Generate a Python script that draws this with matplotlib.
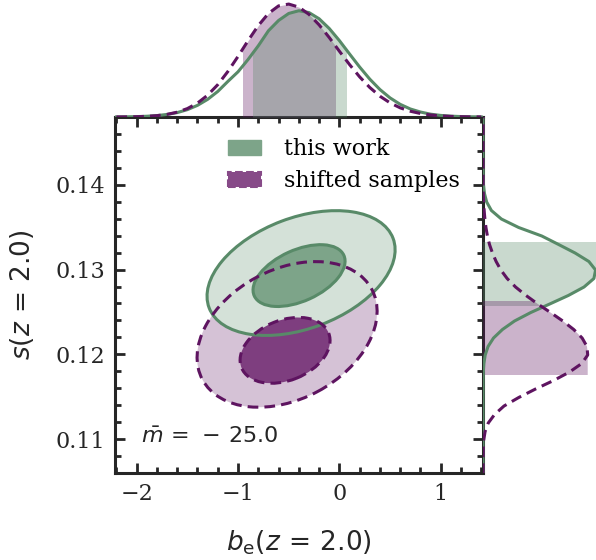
import numpy as np
import matplotlib
matplotlib.use('Agg')
import matplotlib.pyplot as plt
from matplotlib.patches import Ellipse, Patch, Rectangle
from matplotlib.transforms import Affine2D

plt.rcParams['font.family'] = 'serif'
plt.rcParams['font.serif'] = ['DejaVu Serif']
plt.rcParams['mathtext.fontset'] = 'dejavusans'

#---------------------- data ----------------------
labels = ['this work', 'shifted samples']
green = '#588a68'
purple = '#5e1460'
fill_outer = ['#d4e1d8', '#d5c2d6']
fill_inner = ['#7da489', '#7e3e7f']

# 1D marginal of b_e (top panel)
b_grid = [-2.2, -2.1, -2.0, -1.9, -1.8, -1.7, -1.6, -1.5, -1.4, -1.3, -1.2, -1.1, -1.0,
          -0.9, -0.8, -0.7, -0.6, -0.5, -0.4, -0.3, -0.2, -0.1, 0.0, 0.1, 0.2, 0.3,
          0.4, 0.5, 0.6, 0.7, 0.8, 0.9, 1.0, 1.1, 1.2, 1.3, 1.4]
green_top = [0.0008, 0.0017, 0.0034, 0.0067, 0.0126, 0.0227, 0.039, 0.065, 0.103, 0.156,
             0.226, 0.315, 0.40, 0.51, 0.63, 0.763, 0.854, 0.916, 0.940, 0.924, 0.869,
             0.783, 0.676, 0.558, 0.442, 0.335, 0.243, 0.169, 0.112, 0.071, 0.044, 0.025,
             0.014, 0.0076, 0.0039, 0.0019, 0.0009]
purple_top = [0.0005, 0.0012, 0.0027, 0.0058, 0.0119, 0.0232, 0.0427, 0.0745, 0.123, 0.193,
              0.286, 0.403, 0.536, 0.677, 0.809, 0.916, 0.983, 0.999, 0.972, 0.908, 0.815,
              0.703, 0.582, 0.464, 0.355, 0.261, 0.184, 0.125, 0.081, 0.051, 0.031, 0.018,
              0.0098, 0.0053, 0.0027, 0.0013, 0.0006]

# 1D marginal of s (right panel)
s_grid = [0.106, 0.107, 0.108, 0.109, 0.110, 0.111, 0.112, 0.113, 0.114, 0.115, 0.116,
          0.117, 0.118, 0.119, 0.120, 0.121, 0.122, 0.123, 0.124, 0.125, 0.126, 0.127,
          0.128, 0.129, 0.130, 0.131, 0.132, 0.133, 0.134, 0.135, 0.136, 0.137, 0.138,
          0.139, 0.140, 0.141, 0.142, 0.143, 0.144, 0.145, 0.146, 0.147, 0.148]
green_right = [0, 0, 0, 0, 0, 0, 0, 0, 0.0001, 0.0003, 0.0008,
               0.001, 0.003, 0.0085, 0.021, 0.048, 0.10, 0.185, 0.30, 0.455, 0.635, 0.812,
               0.962, 1.056, 1.072, 1.008, 0.877, 0.72, 0.56, 0.34, 0.175, 0.08, 0.035,
               0.014, 0.005, 0.0017, 0.0005, 0, 0, 0, 0, 0, 0]
purple_right = [0, 0, 0.0005, 0.002, 0.007, 0.02, 0.05, 0.11, 0.20, 0.34, 0.50,
                0.672, 0.824, 0.940, 0.997, 0.990, 0.944, 0.864, 0.760, 0.643, 0.522, 0.41,
                0.31, 0.23, 0.17, 0.125, 0.09, 0.062, 0.042, 0.028, 0.018, 0.011, 0.006,
                0.003, 0.0015, 0.0006, 0, 0, 0, 0, 0, 0, 0]

# 68% intervals of the 1D marginals
top_band = [(-0.85, 0.063), (-0.948, -0.042)]
right_band = [(0.1258, 0.1333), (0.1177, 0.1264)]
right_peak = [0.1300, 0.1203]

# 2D contours (68% and 95%) as ellipses: centre, width/height (in b units), angle
ell_b = [[-0.398, -0.378], [-0.536, -0.516]]
ell_s = [[0.12929, 0.12959], [0.12047, 0.12235]]
ell_w = [[0.971, 1.941], [0.926, 1.895]]
ell_h = [[0.506, 1.096], [0.596, 1.281]]
ell_ang = [[24.5, 20.8], [21.8, 28.2]]

xlim = (-2.214, 1.417)
ylim = (0.10612, 0.1480)
mbar = -25.0

#---------------------- figure ----------------------
W, H = 596, 560
fig = plt.figure(figsize=(W / 100, H / 100), dpi=100)
ax = fig.add_axes([115 / W, 1 - 473 / H, 368 / W, 356 / H])
ax_top = fig.add_axes([115 / W, 1 - 117 / H, 368 / W, 117 / H])
ax_r = fig.add_axes([483 / W, 1 - 473 / H, 113 / W, 356 / H])

cols = [green, purple]
styles = ['-', (0, (3.5, 2))]
lw = 2.2

# ratio to make the ellipses in pixel-isotropic units
k = ((ylim[1] - ylim[0]) / 356) / ((xlim[1] - xlim[0]) / 368)
tr = Affine2D().scale(1, k) + ax.transData

def ell(i, level, **kw):
    return Ellipse((ell_b[i][level], ell_s[i][level] / k), ell_w[i][level], ell_h[i][level],
                   angle=ell_ang[i][level], transform=tr, **kw)

# fills: purple outer, green outer, purple inner, green inner
for level, fc in [(1, fill_outer), (0, fill_inner)]:
    for i in [1, 0]:
        ax.add_patch(ell(i, level, facecolor=fc[i], lw=0))
for i in [0, 1]:
    for level in [1, 0]:
        ax.add_patch(ell(i, level, facecolor='none', edgecolor=cols[i], lw=lw, ls=styles[i]))

ax.set_xlim(xlim)
ax.set_ylim(ylim)
ax.set_xticks([-2, -1, 0, 1])
ax.set_xticks(np.arange(-2.2, 1.5, 0.2), minor=True)
ax.set_yticks([0.11, 0.12, 0.13, 0.14])
ax.set_yticks(np.arange(0.106, 0.1481, 0.002), minor=True)
ax.tick_params(which='both', direction='in', top=True, right=True, width=2, colors='#262626',
               labelsize=16, pad=7)
ax.tick_params(which='major', length=7)
ax.tick_params(which='minor', length=4.5)
for sp in ax.spines.values():
    sp.set_linewidth(2.2)
    sp.set_color('#262626')
ax.set_xlabel(r'$b_{\mathrm{e}}(z\,=\,2.0)$', fontsize=19, labelpad=17, color='#262626')
ax.set_ylabel(r'$s(z\,=\,2.0)$', fontsize=19, labelpad=14, color='#262626')
ax.text(0.07, 0.1, r'$\bar{m}\,=\,-\,%.1f$' % abs(mbar), transform=ax.transAxes,
        fontsize=16, va='center', color='#262626')

handles = [Patch(facecolor=fill_inner[0], edgecolor=fill_inner[0], lw=1),
           Patch(facecolor='#874a88', edgecolor='#874a88', lw=1.5, ls='--')]
ax.legend(handles, labels, loc='upper left', bbox_to_anchor=(0.283, 0.965), frameon=False,
          fontsize=16, handlelength=1.5, handleheight=0.6, handletextpad=1.0,
          labelspacing=0.45, borderaxespad=0)

# top marginal
tops = [green_top, purple_top]
for i in [1, 0]:
    f = ax_top.fill_between(b_grid, 0, tops[i], color=cols[i], alpha=0.32, lw=0)
    lo, hi = top_band[i]
    f.set_clip_path(Rectangle((lo, 0), hi - lo, 2, transform=ax_top.transData))
ax_top.plot(b_grid, green_top, color=green, lw=lw)
ax_top.plot(b_grid, purple_top, color=purple, lw=lw, ls=styles[1])
ax_top.set_xlim(xlim)
ax_top.set_ylim(0, 1.035)
ax_top.axis('off')

# right marginal
xr = (0, 1.076)
lo, hi = right_band[0]
gx = [0] + [g for g, s in zip(green_right, s_grid) if s < right_peak[0]] + [xr[1], xr[1], 0]
gy = [s_grid[0]] + [s for s in s_grid if s < right_peak[0]] + [right_peak[0], s_grid[-1], s_grid[-1]]
p, = ax_r.fill(gx, gy, color=green, alpha=0.32, lw=0)
p.set_clip_path(Rectangle((0, lo), 2, hi - lo, transform=ax_r.transData))

lo, hi = right_band[1]
pm = max(purple_right)
px = [0, pm, pm] + [v for v, s in zip(purple_right, s_grid) if s > right_peak[1]] + [0]
py = [s_grid[0], s_grid[0], right_peak[1]] + [s for s in s_grid if s > right_peak[1]] + [s_grid[-1]]
p, = ax_r.fill(px, py, color=purple, alpha=0.32, lw=0)
p.set_clip_path(Rectangle((0, lo), 2, hi - lo, transform=ax_r.transData))

ax_r.plot(green_right, s_grid, color=green, lw=lw)
ax_r.plot(purple_right, s_grid, color=purple, lw=lw, ls=styles[1])
ax_r.set_xlim(xr)
ax_r.set_ylim(ylim)
ax_r.axis('off')

fig.savefig('out.png', dpi=100)
